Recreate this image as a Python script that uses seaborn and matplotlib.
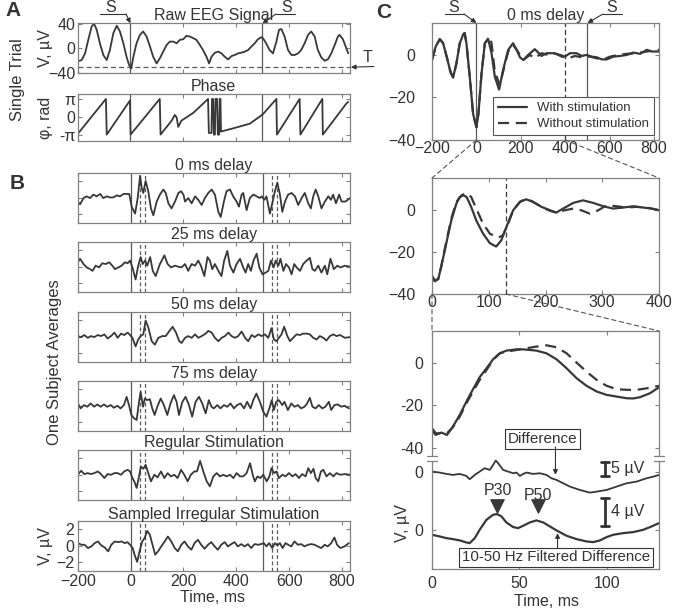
import numpy as np
import pandas as pd
import matplotlib
matplotlib.use("Agg")
import matplotlib.pyplot as plt
import seaborn as sns
from matplotlib.patches import ConnectionPatch, Rectangle
from matplotlib.lines import Line2D

# ---------------- data ----------------
STIM_TIMES = [0, 500]
MARK_DELAYS = [35, 55]
THRESHOLD = -31

RAW_EEG = [(-197,-21),(-185,-19.3),(-172,-8.3),(-160,13.8),(-147,35.9),(-138,40.3),(-128,30.4),(-116,8.3),(-103,-11),(-90,-19.3),
           (-78,-2.8),(-65,24.8),(-52,37),(-40,27.6),(-27,8.3),(-15,-13.8),(-5,-27.6),(3,-33.1),(11,-13.8),(23,8.3),
           (36,22.1),(48,27.6),(61,19.3),(74,2.8),(86,-13.8),(99,-24.8),(111,-16.6),(124,-5.5),(137,5.5),(149,11),
           (162,11),(175,8.3),(187,13.8),(200,14.9),(212,20.4),(225,19.3),(238,16.6),(250,13.8),(263,5.5),(275,-2.8),
           (288,-13.8),(298,-24.8),(307,-13.8),(320,-7.2),(332,-5.5),(345,-8.3),(357,-13.8),(370,-18.2),(383,-12.7),(395,-11),
           (408,-8.3),(420,-7.2),(433,-5.5),(446,-2.8),(458,2.8),(471,8.3),(483,14.9),(496,18.2),(502,16.6),(514,8.3),
           (527,-2.8),(540,-8.3),(553,11),(563,30.4),(572,31.5),(584,19.3),(597,-2.8),(610,-11),(622,-11),(635,-8.3),
           (647,-2.8),(660,8.3),(673,22),(685,27.6),(698,19.3),(710,-2.8),(723,-14.9),(736,-20.4),(748,-18.2),(761,-8.3),
           (774,5.5),(786,19.3),(792,22.1),(805,14.9),(818,0),(825,-8.3)]

PHASE_PI = [(-197,-0.91),(-93,1.0),(-90,-1.0),(-2,0.91),(0.5,-1.0),(111,1.0),(114,-1.0),(156,-0.22),(168,0.1),(175,-0.04),
            (181,-0.57),(193,-0.22),(238,0.22),(294,1.0),(297,-0.91),(307,-0.91),(309,1.0),(313,1.0),(316,-1.0),(320,-1.0),
            (322,1.0),(328,1.0),(331,-1.0),(336,-1.0),(338,1.0),(341,1.0),(343,-0.83),(389,-0.65),(452,-0.39),(501,0.13),
            (553,1.0),(555,-1.0),(641,1.0),(644,-1.0),(727,1.0),(729,-1.0),(818,0.74),(825,0.83)]

B_TITLES = ['0 ms delay', '25 ms delay', '50 ms delay', '75 ms delay',
            'Regular Stimulation', 'Sampled Irregular Stimulation']

DELAY_0 = [(-200,-0.46),(-191,-0.79),(-178,-0.04),(-166,0.17),(-153,-0.04),(-141,0.38),(-128,0.17),(-115,0.46),(-103,-0.04),(-90,0.17),
           (-78,0.04),(-65,0.04),(-52,0.29),(-40,0.17),(-27,0.46),(-15,0.46),(-5,0.46),(4,-1.08),(17,-1.92),(27,-0.04),
           (36,2.67),(42,1.21),(48,0.58),(57,2.04),(67,0.79),(77,-1.29),(86,-2.13),(99,-0.46),(111,0.38),(124,1.0),
           (133,0.58),(143,-0.67),(155,-1.29),(168,-0.46),(181,0.58),(191,0.79),(200,0.38),(206,-0.46),(218,-0.04),(231,-0.67),
           (244,0.17),(256,-0.25),(269,-0.88),(281,-0.04),(294,0.58),(307,1.0),(319,0.38),(332,-1.71),(341,-2.33),(353,-0.46),
           (363,0.79),(376,1.0),(388,0.17),(401,-0.46),(410,-1.08),(420,0.38),(426,0.58),(439,-1.5),(451,-0.04),(464,0.38),
           (477,0.17),(489,-0.04),(496,0.17),(506,-0.25),(514,0.17),(527,-1.92),(536,-0.67),(546,0.79),(555,1.83),(565,0.38),
           (574,-1.71),(584,-0.46),(596,0.38),(609,0.58),(622,0.17),(634,-0.88),(647,-0.04),(659,0.58),(672,-0.67),(682,-1.29),
           (691,0.17),(700,1.0),(710,0.17),(722,-1.29),(735,-0.46),(748,0.17),(758,-0.25),(766,0.38),(777,-0.67),(789,0.38),
           (798,-0.46),(813,-0.46),(830,-0.04)]

DELAY_25 = [(-200,0.54),(-191,0.96),(-178,0.33),(-166,-0.08),(-153,-0.29),(-144,-0.5),(-132,0.13),(-119,-0.08),(-107,0.42),(-94,0.33),
            (-81,0.54),(-69,0.13),(-59,-0.29),(-46,-0.08),(-34,0.13),(-21,0.54),(-11,0.42),(-2,0.75),(7,-0.08),(19,-1.54),
            (29,0.13),(38,1.17),(46,0.33),(55,0.75),(63,0.13),(74,1.17),(84,-0.5),(95,-1.13),(111,0.33),(128,1.38),
            (140,0.33),(153,-0.08),(168,0.13),(181,0.0),(193,-0.08),(206,0.33),(218,-0.5),(231,0.33),(244,0.13),(256,0.75),
            (266,0.13),(279,-1.13),(291,1.17),(300,0.75),(309,-0.29),(319,0.33),(332,-0.5),(344,-1.13),(354,0.75),(366,1.92),
            (376,0.13),(389,-0.71),(401,0.33),(414,0.96),(426,-0.08),(435,-0.71),(445,0.33),(455,-0.5),(465,0.75),(477,1.58),
            (487,-0.08),(499,-0.92),(511,-0.71),(521,-0.5),(531,0.75),(541,-0.08),(549,0.75),(559,0.13),(567,0.96),(578,-0.5),
            (588,0.33),(599,-0.08),(609,-0.92),(619,0.33),(628,-0.08),(641,-0.5),(653,0.33),(666,0.75),(678,1.08),(688,-0.29),
            (697,-0.5),(710,0.13),(722,-0.71),(735,0.13),(744,-0.92),(756,0.96),(769,-0.29),(782,0.13),(794,-0.08),(811,0.13),
            (830,0.0)]

DELAY_50 = [(-200,0.08),(-187,-0.04),(-175,0.21),(-162,-0.13),(-150,0.08),(-137,-0.04),(-124,0.21),(-112,0.08),(-99,0.29),(-87,-0.21),
            (-74,0.08),(-61,0.5),(-49,-0.13),(-36,0.38),(-24,0.21),(-11,0.5),(-2,0.21),(7,-0.13),(19,-1.17),(29,-0.33),
            (38,0.08),(48,0.29),(57,1.96),(67,1.13),(80,-0.54),(92,-0.96),(105,-0.13),(120,0.08),(133,0.08),(147,0.71),
            (159,1.21),(172,0.5),(184,-0.54),(193,-0.75),(206,-0.13),(218,0.08),(231,-0.13),(244,0.29),(256,-0.13),(269,0.08),
            (284,0.38),(294,0.71),(307,0.5),(319,-0.13),(332,-0.54),(344,-0.13),(357,0.08),(370,0.5),(382,0.08),(395,-0.13),
            (407,0.08),(420,0.63),(433,-0.13),(445,-0.54),(458,0.21),(470,-0.04),(483,0.29),(496,0.08),(508,0.29),(521,-0.13),
            (533,1.04),(542,-0.33),(552,-0.54),(561,-0.13),(571,0.29),(581,1.21),(593,0.08),(603,-0.54),(615,-0.13),(628,0.29),
            (641,0.21),(653,0.38),(666,0.38),(678,0.29),(691,-0.13),(704,-0.33),(716,0.08),(729,-0.13),(741,-0.46),(754,0.08),
            (767,0.29),(779,0.08),(792,0.21),(811,-0.13),(830,-0.04)]

DELAY_75 = [(-199,0.28),(-189,-0.32),(-176,0.08),(-164,-0.12),(-151,0.28),(-138,-0.12),(-126,0.16),(-113,-0.12),(-101,0.16),(-88,-0.12),
            (-75,0.08),(-63,-0.24),(-50,0.0),(-38,-0.32),(-25,0.08),(-15,1.08),(-6,0.08),(3,-1.12),(13,-1.52),(23,-1.72),
            (32,0.48),(38,1.68),(47,-0.12),(54,0.88),(63,0.68),(73,0.8),(82,-0.32),(91,-1.12),(101,-0.12),(114,0.88),
            (126,0.08),(139,-1.12),(151,0.28),(164,1.28),(174,0.48),(183,-1.12),(196,0.48),(208,1.08),(221,0.08),(233,-1.32),
            (246,0.48),(259,1.08),(271,0.28),(284,-0.92),(296,0.68),(306,-0.12),(315,-0.32),(328,0.08),(340,-0.32),(353,0.08),
            (366,-0.12),(378,0.28),(391,-0.32),(403,0.08),(416,0.28),(429,-0.32),(441,0.48),(454,-0.32),(464,0.68),(476,1.48),
            (489,0.48),(502,-0.72),(514,-1.32),(527,-0.12),(534,0.68),(542,-0.52),(551,0.48),(561,0.68),(574,0.08),(582,0.48),
            (595,-0.52),(608,0.28),(620,-0.12),(633,0.08),(645,-0.32),(658,-0.12),(668,0.28),(678,0.96),(688,-0.12),(700,-0.32),
            (712,0.08),(725,-0.32),(737,-0.12),(750,0.48),(759,-0.52),(771,0.08),(784,0.16),(797,-0.12),(809,0.0),(826,-0.32)]

REGULAR = [(-200,0.0),(-187,0.48),(-175,0.08),(-162,0.2),(-150,0.08),(-137,0.2),(-124,0.4),(-112,0.08),(-99,-0.4),(-87,0.08),
           (-74,0.0),(-61,0.2),(-49,0.2),(-36,0.0),(-24,0.4),(-11,0.6),(-2,0.4),(7,-0.4),(14,-0.8),(23,-1.6),
           (32,-0.2),(39,1.0),(48,0.72),(57,1.2),(67,0.2),(77,-0.8),(90,0.0),(102,-0.32),(115,0.4),(128,-0.4),
           (140,0.2),(153,-0.2),(165,0.0),(178,-0.4),(191,0.6),(203,0.0),(216,-0.8),(228,0.0),(241,0.4),(251,0.4),
           (263,1.68),(275,0.4),(288,-0.8),(300,-1.4),(313,-0.2),(326,0.2),(338,-0.2),(351,0.0),(363,-0.2),(376,0.0),
           (389,-0.4),(401,0.2),(414,-0.2),(426,-0.2),(439,0.2),(452,1.4),(462,0.0),(470,-0.8),(480,-0.2),(491,-0.4),
           (502,0.0),(515,-0.8),(525,-0.2),(533,0.8),(543,0.2),(552,0.4),(561,-0.4),(574,0.0),(586,-0.2),(599,0.2),
           (612,-0.2),(624,0.08),(637,-0.4),(649,0.08),(662,-0.2),(672,0.8),(682,0.2),(692,0.72),(700,-0.4),(710,-0.8),
           (720,0.4),(729,0.6),(741,-0.2),(754,0.2),(767,-0.2),(779,0.2),(792,0.0),(811,0.08),(830,0.0)]

IRREGULAR = [(-199,0.32),(-186,0.12),(-174,0.12),(-161,-0.28),(-148,-0.08),(-136,0.32),(-123,0.52),(-111,0.04),(-98,-0.2),(-85,-0.68),
             (-73,0.12),(-60,0.52),(-48,0.44),(-35,0.52),(-22,0.32),(-12,0.44),(-2,0.12),(8,-0.28),(15,-1.08),(25,-1.96),
             (34,-0.68),(44,0.52),(53,0.92),(63,1.8),(73,1.32),(83,0.12),(93,-1.08),(104,-0.68),(116,-0.08),(129,0.52),
             (141,1.12),(154,0.52),(167,-0.28),(179,-0.68),(192,0.12),(204,0.52),(217,-0.08),(230,-0.48),(242,0.32),(255,0.72),
             (267,0.12),(280,-0.36),(293,0.12),(305,0.44),(318,-0.08),(330,-0.48),(343,0.12),(356,0.44),(368,-0.08),(381,0.2),
             (393,0.44),(406,-0.08),(419,0.2),(431,-0.08),(444,0.2),(456,-0.28),(469,0.2),(482,0.12),(494,0.2),(504,0.32),
             (514,-0.08),(524,0.32),(536,-0.28),(546,0.32),(555,0.04),(565,0.32),(575,-0.28),(586,0.32),(596,0.12),(608,-0.08),
             (620,0.52),(633,0.12),(645,0.2),(658,-0.08),(671,0.12),(683,0.2),(696,0.12),(708,-0.08),(721,-0.28),(734,0.12),
             (746,-0.08),(759,0.32),(771,1.0),(781,0.12),(794,-0.28),(809,-0.08),(826,0.32)]

ERP_WITH = [(-200,-2.4),(-183,4.0),(-165,7.4),(-150,5.5),(-132,-1.6),(-117,-7.9),(-105,-10.6),(-90,-4.0),(-75,5.5),(-60,9.5),
            (-53,10.3),(-45,5.5),(-30,-10.3),(-15,-27.7),(0,-34.0),(9,-27.7),(23,-8.7),(38,5.5),(53,7.4),(68,0.8),
            (83,-10.3),(102,-16.3),(120,-7.1),(143,2.4),(165,5.5),(181,2.4),(196,-1.1),(211,-2.4),(233,0.0),(263,2.7),
            (293,-0.5),(316,0.8),(346,0.8),(376,0.0),(399,-0.8),(421,0.8),(451,0.8),(474,-0.5),(496,0.0),(519,-0.8),
            (541,-1.1),(564,-2.1),(587,-2.1),(617,-0.8),(647,-0.5),(677,0.0),(707,1.1),(737,0.5),(767,2.4),(790,1.6),(823,1.6)]

ERP_WITHOUT = [(-200,-2.4),(-183,4.0),(-165,7.4),(-150,5.5),(-132,-1.6),(-117,-7.9),(-105,-10.6),(-90,-4.0),(-75,5.5),(-60,9.5),
               (-53,10.3),(-45,5.5),(-30,-10.3),(-15,-27.7),(0,-34.0),(9,-27.7),(23,-8.7),(38,5.5),(60,8.7),(68,5.5),
               (83,-7.9),(105,-14.2),(120,-7.9),(143,1.6),(165,4.7),(181,2.4),(211,-2.4),(241,0.0),(263,-1.6),(293,0.8),
               (323,0.0),(353,0.8),(384,-0.8),(414,-1.6),(444,-0.5),(474,-1.1),(511,-0.8),(541,-1.6),(572,-2.1),(602,-0.8),
               (639,0.0),(677,0.5),(722,0.8),(767,1.6),(823,2.4)]

ZOOM_WITH = [(0,-32.1),(5,-34.0),(11,-32.9),(16,-27.3),(25,-16.2),(34,-5.1),(43,2.9),(49,6.0),(55,6.8),(61,6.0),
             (69,1.3),(78,-5.1),(90,-11.4),(102,-15.9),(113,-17.5),(122,-14.6),(131,-8.3),(143,-0.3),(155,3.7),(166,4.9),
             (178,3.7),(193,1.3),(208,-0.3),(219,-1.4),(231,0.5),(249,3.2),(266,4.4),(284,3.2),(302,1.6),(319,0.5),
             (337,1.0),(355,1.6),(372,1.0),(387,0.5),(400,-0.3)]

ZOOM_WITHOUT = [(0,-31.3),(5,-33.6),(11,-32.9),(16,-27.3),(25,-15.4),(34,-4.3),(43,3.7),(52,6.8),(61,7.9),(69,6.0),
                (78,0.5),(90,-6.7),(102,-11.4),(116,-13.3),(125,-12.2),(134,-6.7),(143,-0.3),(155,3.7),(166,5.2),(178,3.7),
                (193,1.3),(208,-0.6),(219,-1.4),(234,-0.3),(249,0.5),(263,-0.3),(278,-1.9),(293,-0.3),(308,2.1),(325,1.6),
                (343,1.0),(360,1.3),(378,1.0),(400,-0.3)]

EARLY_WITH = [(0,-31.9),(2.1,-34.0),(5.4,-32.9),(8.6,-34.0),(12,-30.0),(15.9,-24.5),(19.7,-18.2),(23.5,-12.3),(27.3,-6.6),(31.2,-2.4),
              (35,1.9),(38.8,4.7),(42.6,6.0),(48.4,6.6),(52.2,6.6),(56,6.3),(59.8,6.0),(65.6,4.7),(71.3,1.9),(77.1,-2.4),
              (82.8,-7.1),(88.5,-10.7),(94.3,-13.4),(100,-15.0),(105.7,-15.8),(111.5,-16.6),(115.3,-16.7),(119.1,-16.1),(124.9,-14.2),(130,-11.4)]

EARLY_WITHOUT = [(0,-30.8),(2.1,-33.2),(5.4,-33.2),(8.6,-33.2),(12,-30.3),(15.9,-25.3),(19.7,-19.0),(23.5,-13.4),(27.3,-7.9),(31.2,-3.2),
                 (35,1.6),(38.8,4.7),(42.6,5.5),(48.4,6.3),(54.1,7.1),(59.8,7.9),(65.6,8.5),(71.3,7.6),(77.1,4.7),(82.8,0.3),
                 (88.5,-4.0),(94.3,-7.9),(100,-10.7),(105.7,-12.3),(111.5,-12.6),(117.2,-12.6),(122.9,-11.9),(130,-10.7)]

DIFFERENCE = [(0,0.24),(4.4,-0.12),(8.2,-0.61),(12,-0.98),(15.9,-0.61),(19.7,-1.34),(21.6,-2.56),(24.5,-0.98),(27.3,0.24),(30.2,1.46),
              (33.1,0.85),(35,2.68),(36.5,4.27),(37.9,3.29),(40.7,0.85),(43.6,0.24),(46.5,-0.37),(48.4,-0.12),(50.3,-1.34),(52.2,-0.61),
              (54.1,-0.12),(57.9,-0.61),(61.8,-0.37),(65.6,-0.98),(68.4,-2.2),(71.3,-2.8),(75.1,-4.02),(79,-5.24),(84.7,-6.46),(90.4,-7.44),
              (94.3,-7.07),(100,-6.46),(105.7,-5.24),(111.5,-4.02),(117.2,-3.41),(122.9,-2.2),(126.8,-1.59),(130,-0.98)]

FILTERED = [(0,-0.6),(4.4,-0.83),(8.2,-1.06),(12,-1.2),(15.9,-1.38),(19.7,-1.66),(21.6,-1.75),(24.5,-1.06),(27.3,0.09),(31.2,1.47),
            (35,2.16),(37.3,2.25),(39.8,1.93),(42.6,1.1),(46.5,0.46),(49.3,0.32),(52.2,0.64),(56,1.1),(59.8,1.38),(63.7,1.1),
            (67.5,0.55),(71.3,0.0),(77.1,-0.74),(82.8,-1.2),(88.5,-1.52),(92.3,-1.61),(96.2,-1.38),(100,-0.92),(103.8,-0.6),(109.6,-0.37),
            (115.3,-0.23),(121,0.09),(125.8,0.55),(130,1.01)]

PEAK_LABELS = ['P30', 'P50']
PEAK_TIMES = [37.5, 60.8]

# ---------------- style ----------------
sns.set_style("ticks")
plt.rcParams['font.family'] = ['Liberation Sans', 'DejaVu Sans']
TXT = '#333333'
LINE = '#383838'
EDGE = '#808080'
STIMC = '#5a5a5a'
plt.rcParams.update({'axes.edgecolor': EDGE, 'axes.linewidth': 0.9, 'text.color': TXT})

W, H = 676, 612
fig = plt.figure(figsize=(W / 100, H / 100), dpi=100)
fig.patch.set_facecolor('white')


def box(l, t, r, b):
    return fig.add_axes([l / W, 1 - b / H, (r - l) / W, (b - t) / H])


def fp(x, y):
    return (x / W, 1 - y / H)


def style(ax, pad=2, xlabels=True, ylabels=True, xpad=None):
    ax.tick_params(direction='in', length=3, width=0.8, top=True, right=True,
                   color=EDGE, labelsize=11.5, labelcolor=TXT)
    ax.tick_params(axis='y', pad=pad)
    if xpad is not None:
        ax.tick_params(axis='x', pad=xpad)
    if not xlabels:
        ax.set_xticklabels([])
    if not ylabels:
        ax.set_yticklabels([])
    ax.set_xlabel('')
    ax.set_ylabel('')
    for s in ax.spines.values():
        s.set_color(EDGE)


def draw(ax, pts, lw=1.3, ls='-', scale=1.0, offset=0.0, color=LINE):
    df = pd.DataFrame(pts, columns=['t', 'v'])
    df['v'] = df['v'] * scale + offset
    sns.lineplot(data=df, x='t', y='v', ax=ax, estimator=None, sort=False,
                 color=color, linewidth=lw, linestyle=ls, legend=False)
    ax.set_xlabel('')
    ax.set_ylabel('')


def s_mark(ax, t_stim, sx, ux0, ux1, from_right):
    fig.text(*fp(sx, 8), 'S', ha='center', va='center', fontsize=11.5)
    fig.add_artist(Line2D([ux0 / W, ux1 / W], [1 - 14 / H] * 2, color=TXT, lw=0.8))
    start = ux1 if from_right else ux0
    ax.annotate('', xy=(t_stim, 1.0), xycoords=ax.get_xaxis_transform(),
                xytext=fp(start, 14), textcoords='figure fraction',
                arrowprops=dict(arrowstyle='-|>', color=TXT, lw=0.8, mutation_scale=7,
                                shrinkA=0, shrinkB=0))


XT_B = [-200, 0, 200, 400, 600, 800]

# ---------------- panel A ----------------
axA = box(77.7, 23.3, 349.5, 72.7)
axA.axhline(THRESHOLD, color=STIMC, lw=0.9, ls=(0, (4, 2.5)))
for s in STIM_TIMES:
    axA.axvline(s, color=STIMC, lw=0.9)
draw(axA, RAW_EEG)
axA.set_xlim(-200, 830)
axA.set_ylim(-40, 41)
axA.set_xticks(XT_B)
axA.set_yticks([-40, 0, 40])
style(axA, pad=1.5, xlabels=False)
axA.set_title('Raw EEG Signal', fontsize=11.5, pad=2, color=TXT)
s_mark(axA, 0, 111, 100, 126, True)
s_mark(axA, 500, 287, 276, 295, False)
axA.annotate('', xy=(1.0, THRESHOLD), xycoords=axA.get_yaxis_transform(),
             xytext=fp(374, 66.5), textcoords='figure fraction',
             arrowprops=dict(arrowstyle='-|>', color=TXT, lw=0.8, mutation_scale=7,
                             shrinkA=0, shrinkB=1))
fig.text(*fp(367, 58), 'T', ha='center', va='center', fontsize=11.5)
fig.text(*fp(45, 48), 'V, \u00b5V', rotation=90, ha='center', va='center', fontsize=11.5)

axP = box(77.7, 94.3, 349.5, 141)
for s in STIM_TIMES:
    axP.axvline(s, color=STIMC, lw=0.9)
phase_df = [(t, p * np.pi) for t, p in PHASE_PI]
draw(axP, phase_df)
axP.set_xlim(-200, 830)
axP.set_ylim(-1.36 * np.pi, 1.26 * np.pi)
axP.set_xticks(XT_B)
axP.set_yticks([-np.pi, 0, np.pi])
axP.set_yticklabels(['-\u03c0', '0', '\u03c0'])
style(axP, pad=1.5, xlabels=False)
axP.set_title('Phase', fontsize=11.5, pad=2, color=TXT)
fig.text(*fp(45, 118), '\u03c6, rad', rotation=90, ha='center', va='center', fontsize=11.5)
fig.text(*fp(18, 80), 'Single Trial', rotation=90, ha='center', va='center', fontsize=12)

# ---------------- panel B ----------------
B_TRACES = [DELAY_0, DELAY_25, DELAY_50, DELAY_75, REGULAR, IRREGULAR]
B_TOPS = [173, 242, 312, 381, 450, 521]
for i, (top, title, pts) in enumerate(zip(B_TOPS, B_TITLES, B_TRACES)):
    ax = box(77.7, top, 350, top + 49.5)
    for s in STIM_TIMES:
        ax.axvline(s, color=STIMC, lw=0.9)
        for d in MARK_DELAYS:
            ax.axvline(s + d, color=STIMC, lw=0.9, ls=(0, (3, 2)))
    draw(ax, pts, lw=1.3)
    ax.set_xlim(-200, 830)
    ax.set_ylim(-3, 3)
    ax.set_xticks(XT_B)
    ax.set_yticks([-2, 0, 2])
    last = i == len(B_TRACES) - 1
    style(ax, pad=2.5, xlabels=last, ylabels=last, xpad=2.5)
    ax.set_title(title, fontsize=11.5, pad=1.5, color=TXT)
fig.text(*fp(45, 546), 'V, \u00b5V', rotation=90, ha='center', va='center', fontsize=11.5)
fig.text(*fp(212, 597), 'Time, ms', ha='center', va='center', fontsize=11.5)
fig.text(*fp(54, 362), 'One Subject Averages', rotation=90, ha='center', va='center', fontsize=12)

# ---------------- panel C ----------------
axCt = box(432, 23, 659, 140)
for s in STIM_TIMES:
    axCt.axvline(s, color=STIMC, lw=0.9)
axCt.axvline(400, color=LINE, lw=0.9, ls=(0, (4, 2.5)))
draw(axCt, ERP_WITH, lw=1.6)
draw(axCt, ERP_WITHOUT, lw=1.6, ls=(0, (5, 3)))
axCt.set_xlim(-200, 822)
axCt.set_ylim(-40, 15)
axCt.set_xticks([-200, 0, 200, 400, 600, 800])
axCt.set_yticks([-40, -20, 0])
style(axCt, pad=12, xpad=1)
axCt.set_title('0 ms delay', fontsize=11.5, pad=2, color=TXT)
handles = [Line2D([], [], color=LINE, lw=1.6),
           Line2D([], [], color=LINE, lw=1.6, ls=(0, (5, 3)))]
leg = axCt.legend(handles, ['With stimulation', 'Without stimulation'], loc='lower right',
                  bbox_to_anchor=(0.99, 0.02), fontsize=9.5, frameon=True, fancybox=False,
                  edgecolor='#555555', framealpha=1, borderpad=0.35, handlelength=2.2,
                  labelspacing=0.3, borderaxespad=0.2)
leg.get_frame().set_linewidth(0.8)
s_mark(axCt, 0, 454, 445, 464, True)
s_mark(axCt, 500, 612, 603, 622, False)

axCm = box(432, 178, 659, 294)
axCm.axvline(130, color=LINE, lw=0.9, ls=(0, (4, 2.5)))
draw(axCm, ZOOM_WITH, lw=1.6)
draw(axCm, ZOOM_WITHOUT, lw=1.6, ls=(0, (5, 3)))
axCm.set_xlim(0, 400)
axCm.set_ylim(-40, 15)
axCm.set_xticks([0, 100, 200, 300, 400])
axCm.set_yticks([-40, -20, 0])
style(axCm, pad=12, xpad=1)

axCb = box(432, 331, 659, 569)
DIFF_OFF, DIFF_GAIN = -51.7, 1.30
FILT_OFF, FILT_GAIN = -79.3, 3.44
draw(axCb, EARLY_WITH, lw=1.6)
draw(axCb, EARLY_WITHOUT, lw=1.6, ls=(0, (5, 3)))
draw(axCb, DIFFERENCE, lw=1.3, scale=DIFF_GAIN, offset=DIFF_OFF)
draw(axCb, FILTERED, lw=1.6, scale=FILT_GAIN, offset=FILT_OFF)
axCb.set_xlim(0, 130)
axCb.set_ylim(-97.6, 15.3)
axCb.set_xticks([0, 50, 100])
axCb.set_yticks([FILT_OFF, DIFF_OFF, -40, -20, 0])
axCb.set_yticklabels(['0', '0', '-40', '-20', '0'])
style(axCb, pad=6, xpad=5)

# axis break marks
for xa in (0.0, 1.0):
    axCb.add_patch(Rectangle((xa - 0.03, -46.4), 0.06, 2.3, transform=axCb.get_yaxis_transform(),
                             facecolor='white', edgecolor='none', clip_on=False, zorder=5))
    for yb in (-44.1, -46.4):
        axCb.add_line(Line2D([xa - 0.02, xa + 0.02], [yb, yb], transform=axCb.get_yaxis_transform(),
                             color=EDGE, lw=0.9, clip_on=False, zorder=6))

# scale bars
for top_v, bot_v, lab in [(-46.9, -53.4, '5 \u00b5V'), (-63.7, -77.4, '4 \u00b5V')]:
    axCb.plot([99, 99], [top_v, bot_v], color=TXT, lw=2)
    axCb.plot([96.8, 101.2], [top_v, top_v], color=TXT, lw=2)
    axCb.plot([96.8, 101.2], [bot_v, bot_v], color=TXT, lw=2)
    axCb.text(102.6, (top_v + bot_v) / 2, lab, ha='left', va='center', fontsize=11.5)

# peak markers
peak_df = pd.DataFrame({'t': PEAK_TIMES, 'v': [-67.5, -67.5]})
sns.scatterplot(data=peak_df, x='t', y='v', ax=axCb, marker='v', s=95, color=LINE,
                edgecolor=LINE, legend=False, zorder=6)
axCb.set_xlabel('')
axCb.set_ylabel('')
for lab, t, yv in zip(PEAK_LABELS, PEAK_TIMES, [-60.4, -62.6]):
    axCb.text(t, yv, lab, ha='center', va='center', fontsize=11.5)

axCb.text(63.3, -36.0, 'Difference', ha='center', va='center', fontsize=11,
          bbox=dict(boxstyle='square,pad=0.18', fc='white', ec='#333333', lw=0.8))
axCb.annotate('', xy=(70.7, -52.9), xytext=(70.7, -39.7),
              arrowprops=dict(arrowstyle='-|>', color=TXT, lw=0.8, mutation_scale=7, shrinkA=0, shrinkB=0))
axCb.text(71.1, -92.1, '10-50 Hz Filtered Difference', ha='center', va='center', fontsize=10.8,
          bbox=dict(boxstyle='square,pad=0.18', fc='white', ec='#333333', lw=0.8))
axCb.annotate('', xy=(71.9, -80.6), xytext=(71.9, -87.8),
              arrowprops=dict(arrowstyle='-|>', color=TXT, lw=0.8, mutation_scale=7, shrinkA=0, shrinkB=0))
fig.text(*fp(402, 523), 'V, \u00b5V', rotation=90, ha='center', va='center', fontsize=11.5)
fig.text(*fp(547, 601), 'Time, ms', ha='center', va='center', fontsize=11.5)

# zoom connectors
dash = dict(color='#555555', lw=0.8, ls=(0, (4, 3)))
for (axa, xa, axb, xb) in [(axCt, 0, axCm, 0), (axCt, 400, axCm, 1),
                           (axCm, 0, axCb, 0), (axCm, 130, axCb, 1)]:
    con = ConnectionPatch(xyA=(xa, 0), coordsA=axa.get_xaxis_transform(),
                          xyB=(xb, 1), coordsB=axb.transAxes, **dash)
    fig.add_artist(con)

# panel letters
fig.text(*fp(13, 11), 'A', ha='center', va='center', fontsize=15, fontweight='bold')
fig.text(*fp(17, 183), 'B', ha='center', va='center', fontsize=15, fontweight='bold')
fig.text(*fp(384, 13), 'C', ha='center', va='center', fontsize=15, fontweight='bold')

fig.savefig('out.png', dpi=100, facecolor='white')
